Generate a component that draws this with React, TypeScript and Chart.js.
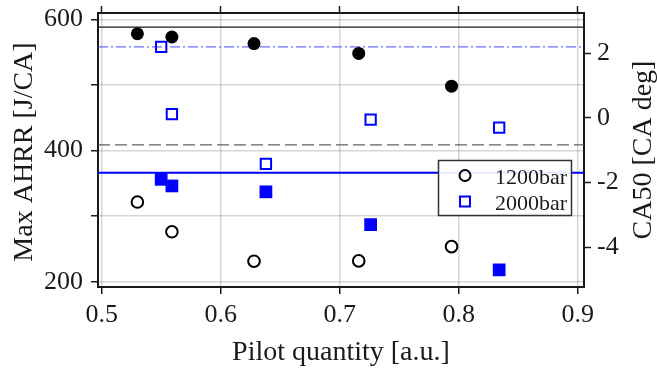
import React, { useEffect, useRef } from 'react';
import { Chart, registerables } from 'chart.js';

Chart.register(...registerables);

// ---- data ----
const xTicks = [0.5, 0.6, 0.7, 0.8, 0.9];
const ahrrTicks = [200, 300, 400, 500, 600];
const ahrrLabelled = [200, 400, 600];
const ca50Ticks = [-4, -2, 0, 2];

const pilot1200 = [0.53, 0.559, 0.628, 0.716, 0.794];
const ahrr1200 = [578, 573, 563, 548, 498];
const ca50_1200 = [-2.6, -3.52, -4.43, -4.42, -3.98];

const pilot2000 = [0.55, 0.559, 0.638, 0.726, 0.834];
const ahrr2000 = [356, 346, 337, 287, 218];
const ca50_2000 = [2.2, 0.12, -1.42, -0.05, -0.3];

const refAhrr1200 = 588;
const refAhrr2000 = 366;
const refCa50_1200 = -0.83;
const refCa50_2000 = 2.2;

const xRange = [0.4969, 0.9053];
const ahrrRange = [191.9, 609.6];
const ca50Range = [-5.228, 3.247];

const legendLabels = ['1200bar', '2000bar'];
const xTitle = 'Pilot quantity [a.u.]';
const yTitle = 'Max AHRR [J/CA]';
const y2Title = 'CA50 [CA deg]';

const FONT = '"Liberation Serif", "Times New Roman", serif';
const TXT = '#1a1a1a';
const BLUE = '#0000ff';

const pts = (xs: number[], ys: number[]) => xs.map((x, i) => ({ x, y: ys[i] }));
const hline = (v: number) => [
  { x: xRange[0], y: v },
  { x: xRange[1], y: v },
];

const noPad = (s: any) => {
  s.paddingTop = 0;
  s.paddingBottom = 0;
  s.paddingLeft = 0;
  s.paddingRight = 0;
};

const overlayPlugin = {
  id: 'overlay',
  afterDraw(chart: any) {
    const ctx = chart.ctx as CanvasRenderingContext2D;
    const ca = chart.chartArea;
    ctx.save();
    ctx.fillStyle = TXT;
    ctx.font = `28px ${FONT}`;
    ctx.textAlign = 'center';
    ctx.textBaseline = 'alphabetic';
    // x title
    ctx.fillText(xTitle, (ca.left + ca.right) / 2, 360);
    // left title
    ctx.save();
    ctx.translate(32, (ca.top + ca.bottom) / 2 + 2);
    ctx.rotate(-Math.PI / 2);
    ctx.fillText(yTitle, 0, 0);
    ctx.restore();
    // right title
    ctx.save();
    ctx.translate(651, (ca.top + ca.bottom) / 2);
    ctx.rotate(-Math.PI / 2);
    ctx.fillText(y2Title, 0, 0);
    ctx.restore();

    // legend
    const bx = 438.5, by = 160.5, bw = 133, bh = 55;
    ctx.fillStyle = 'rgba(255,255,255,0.9)';
    ctx.fillRect(bx, by, bw, bh);
    ctx.strokeStyle = '#333333';
    ctx.lineWidth = 1.5;
    ctx.strokeRect(bx, by, bw, bh);
    // circle
    ctx.beginPath();
    ctx.arc(465, 175.5, 5.5, 0, Math.PI * 2);
    ctx.strokeStyle = '#000';
    ctx.lineWidth = 2;
    ctx.stroke();
    // square
    ctx.strokeStyle = BLUE;
    ctx.strokeRect(465 - 5, 201.5 - 5, 10, 10);
    ctx.fillStyle = TXT;
    ctx.font = `22px ${FONT}`;
    ctx.textAlign = 'left';
    ctx.fillText(legendLabels[0], 495, 183.5);
    ctx.fillText(legendLabels[1], 495, 210);
    ctx.restore();
  },
};

export default function App() {
  const ref = useRef<HTMLCanvasElement>(null);
  useEffect(() => {
    document.body.style.margin = '0';
    const gridColor = 'rgba(0,0,0,0.16)';
    const chart = new Chart(ref.current as HTMLCanvasElement, {
      type: 'scatter',
      data: {
        datasets: [
          {
            label: '1200bar AHRR',
            data: pts(pilot1200, ahrr1200),
            yAxisID: 'y',
            pointStyle: 'circle',
            pointRadius: 6.5,
            backgroundColor: '#000',
            borderColor: '#000',
            borderWidth: 0,
            order: 1,
          },
          {
            label: '1200bar CA50',
            data: pts(pilot1200, ca50_1200),
            yAxisID: 'y2',
            pointStyle: 'circle',
            pointRadius: 5.8,
            backgroundColor: 'rgba(0,0,0,0)',
            borderColor: '#000',
            borderWidth: 2,
            order: 1,
          },
          {
            label: '2000bar AHRR',
            data: pts(pilot2000, ahrr2000),
            yAxisID: 'y',
            pointStyle: 'rect',
            pointRadius: 9,
            backgroundColor: BLUE,
            borderColor: BLUE,
            borderWidth: 0,
            order: 1,
          },
          {
            label: '2000bar CA50',
            data: pts(pilot2000, ca50_2000),
            yAxisID: 'y2',
            pointStyle: 'rect',
            pointRadius: 7.3,
            backgroundColor: 'rgba(0,0,0,0)',
            borderColor: BLUE,
            borderWidth: 2,
            order: 1,
          },
          {
            label: 'ref 1200 AHRR',
            data: hline(refAhrr1200),
            yAxisID: 'y',
            showLine: true,
            pointRadius: 0,
            borderColor: '#1a1a1a',
            borderWidth: 1.3,
            order: 5,
          } as any,
          {
            label: 'ref 2000 AHRR',
            data: hline(refAhrr2000),
            yAxisID: 'y',
            showLine: true,
            pointRadius: 0,
            borderColor: BLUE,
            borderWidth: 2,
            order: 5,
          } as any,
          {
            label: 'ref 1200 CA50',
            data: hline(refCa50_1200),
            yAxisID: 'y2',
            showLine: true,
            pointRadius: 0,
            borderColor: 'rgba(70,70,70,0.85)',
            borderWidth: 1.3,
            borderDash: [12, 5],
            order: 5,
          } as any,
          {
            label: 'ref 2000 CA50',
            data: hline(refCa50_2000),
            yAxisID: 'y2',
            showLine: true,
            pointRadius: 0,
            borderColor: 'rgba(60,60,255,0.75)',
            borderWidth: 1.2,
            borderDash: [10, 3, 2, 3],
            order: 5,
          } as any,
        ],
      },
      options: {
        responsive: false,
        animation: false,
        devicePixelRatio: 1,
        layout: { padding: 0 },
        plugins: { legend: { display: false }, tooltip: { enabled: false } },
        scales: {
          x: {
            type: 'linear',
            position: 'bottom',
            min: xRange[0],
            max: xRange[1],
            afterBuildTicks: (s: any) => {
              s.ticks = xTicks.map((v) => ({ value: v }));
            },
            afterFit: (s: any) => {
              s.height = 81;
              noPad(s);
            },
            grid: {
              color: gridColor,
              lineWidth: 1.5,
              tickColor: TXT,
              tickLength: 7,
              tickWidth: 1.5,
            },
            border: { color: TXT, width: 2 },
            ticks: {
              color: TXT,
              font: { family: FONT, size: 26 },
              padding: 6,
              maxRotation: 0,
              callback: (v: any) => Number(v).toFixed(1),
            },
          },
          x2: {
            type: 'linear',
            position: 'top',
            min: xRange[0],
            max: xRange[1],
            afterBuildTicks: (s: any) => {
              s.ticks = xTicks.map((v) => ({ value: v }));
            },
            afterFit: (s: any) => {
              s.height = 13;
              noPad(s);
            },
            grid: {
              drawOnChartArea: false,
              tickColor: TXT,
              tickLength: 7,
              tickWidth: 1.5,
            },
            border: { color: TXT, width: 2 },
            ticks: { display: false },
          },
          y: {
            type: 'linear',
            position: 'left',
            min: ahrrRange[0],
            max: ahrrRange[1],
            afterBuildTicks: (s: any) => {
              s.ticks = ahrrTicks.map((v) => ({ value: v }));
            },
            afterFit: (s: any) => {
              s.width = 98;
              noPad(s);
            },
            grid: {
              color: gridColor,
              lineWidth: 1.5,
              tickColor: TXT,
              tickLength: 7,
              tickWidth: 1.5,
            },
            border: { color: TXT, width: 2 },
            ticks: {
              color: TXT,
              font: { family: FONT, size: 26 },
              padding: 8,
              callback: (v: any) => (ahrrLabelled.includes(Number(v)) ? String(v) : ''),
            },
          },
          y2: {
            type: 'linear',
            position: 'right',
            min: ca50Range[0],
            max: ca50Range[1],
            afterBuildTicks: (s: any) => {
              s.ticks = ca50Ticks.map((v) => ({ value: v }));
            },
            afterFit: (s: any) => {
              s.width = 73;
              noPad(s);
            },
            grid: {
              drawOnChartArea: false,
              tickColor: TXT,
              tickLength: 7,
              tickWidth: 1.5,
            },
            border: { color: TXT, width: 2 },
            ticks: {
              color: TXT,
              font: { family: FONT, size: 26 },
              padding: 6,
              callback: (v: any) => String(v),
            },
          },
        },
      },
      plugins: [overlayPlugin],
    } as any);
    return () => chart.destroy();
  }, []);
  return (
    <div style={{ width: 657, height: 368, position: 'relative' }}>
      <canvas ref={ref} width={657} height={368} style={{ display: 'block' }} />
    </div>
  );
}
